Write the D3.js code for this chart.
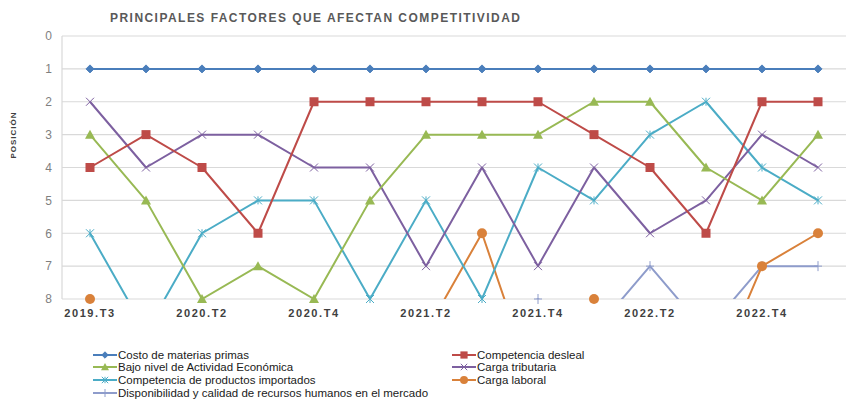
<!DOCTYPE html>
<html><head><meta charset="utf-8">
<script src="https://cdn.jsdelivr.net/npm/d3@7"></script>
<style>body{margin:0;background:#fff}svg{display:block;font-family:"Liberation Sans",Arial,sans-serif}</style>
</head><body><svg id="c" width="856" height="416"></svg>
<script>
const categories = ["2019.T3","2020.T1","2020.T2","2020.T3","2020.T4","2021.T1","2021.T2","2021.T3","2021.T4","2022.T1","2022.T2","2022.T3","2022.T4","2023.T1"];
const tickLabels = ["2019.T3","2020.T2","2020.T4","2021.T2","2021.T4","2022.T2","2022.T4"];
const yTicks = [0,1,2,3,4,5,6,7,8];
const costoMaterias = [1,1,1,1,1,1,1,1,1,1,1,1,1,1];
const competenciaDesleal = [4,3,4,6,2,2,2,2,2,3,4,6,2,2];
const bajoNivel = [3,5,8,7,8,5,3,3,3,2,2,4,5,3];
const cargaTributaria = [2,4,3,3,4,4,7,4,7,4,6,5,3,4];
const competenciaImportados = [6,9,6,5,5,8,5,8,4,5,3,2,4,5];
const cargaLaboral = [8,9,9,9,9,9,9,6,11,8,11,11,7,6];
const disponibilidadRRHH = [9,9,9,9,9,9,9,9,8,9,7,9,7,7];
const seriesNames = ["Costo de materias primas","Competencia desleal","Bajo nivel de Actividad Económica","Carga tributaria","Competencia de productos importados","Carga laboral","Disponibilidad y calidad de recursos humanos en el mercado"];

const series = [
  {name:seriesNames[0], values:costoMaterias, color:"#4A7EBB", marker:"diamond"},
  {name:seriesNames[1], values:competenciaDesleal, color:"#BE4B48", marker:"square"},
  {name:seriesNames[2], values:bajoNivel, color:"#98B954", marker:"triangle"},
  {name:seriesNames[3], values:cargaTributaria, color:"#7D60A0", marker:"x"},
  {name:seriesNames[4], values:competenciaImportados, color:"#4BACC6", marker:"star"},
  {name:seriesNames[5], values:cargaLaboral, color:"#D9813A", marker:"circle"},
  {name:seriesNames[6], values:disponibilidadRRHH, color:"#8E9CCB", marker:"plus"}
];

const svg = d3.select("#c");
const L=62, R=846, T=36, B=299;
const x = d3.scaleBand().domain(categories).range([L,R]);
const y = d3.scaleLinear().domain([0,8]).range([T,B]);
const cx = d => x(d)+x.bandwidth()/2;

// title
svg.append("text").attr("x",110).attr("y",22).attr("textLength",410).attr("lengthAdjust","spacing")
  .attr("font-size",12).attr("font-weight","bold").attr("fill","#595959").text("PRINCIPALES FACTORES QUE AFECTAN COMPETITIVIDAD");

// y label
svg.append("text").attr("transform","translate(16,135) rotate(-90)").attr("text-anchor","middle")
  .attr("font-size",8).attr("font-weight","bold").attr("letter-spacing",1).attr("fill","#404040").text("POSICIÓN");

// gridlines
svg.append("g").selectAll("line").data(yTicks).join("line")
  .attr("x1",L).attr("x2",R).attr("y1",d=>y(d)).attr("y2",d=>y(d))
  .attr("stroke","#D9D9D9").attr("stroke-width",1.2);
svg.append("line").attr("x1",L).attr("x2",L).attr("y1",T).attr("y2",B).attr("stroke","#D9D9D9").attr("stroke-width",1.2);

// y axis labels
const yAxis = d3.axisLeft(y).tickValues(yTicks).tickSize(0).tickPadding(10);
const gy = svg.append("g").attr("transform",`translate(${L},0)`).call(yAxis);
gy.select(".domain").remove();
gy.selectAll("text").attr("font-size",12).attr("fill","#7F7F7F").attr("font-family","Liberation Sans, Arial, sans-serif");

// x axis labels
const xAxis = d3.axisBottom(x).tickValues(tickLabels).tickSize(0).tickPadding(10);
const gx = svg.append("g").attr("transform",`translate(0,${B})`).call(xAxis);
gx.select(".domain").remove();
gx.selectAll("text").attr("font-size",11).attr("font-weight","bold").attr("letter-spacing",1.6).attr("fill","#404040").attr("font-family","Liberation Sans, Arial, sans-serif");

svg.append("clipPath").attr("id","clip").append("rect").attr("x",L).attr("y",T).attr("width",R-L).attr("height",B-T);

const line = d3.line().x((d,i)=>cx(categories[i])).y(d=>y(d));

function drawMarker(g, type, px, py, color, scale){
  const s = scale||1;
  if(type==="diamond"){
    g.append("path").attr("d",`M${px},${py-4*s}L${px+4*s},${py}L${px},${py+4*s}L${px-4*s},${py}Z`).attr("fill",color).attr("stroke",color);
  } else if(type==="square"){
    g.append("rect").attr("x",px-4.5*s).attr("y",py-4.5*s).attr("width",9*s).attr("height",9*s).attr("fill",color);
  } else if(type==="triangle"){
    g.append("path").attr("d",`M${px},${py-5*s}L${px+5*s},${py+4*s}L${px-5*s},${py+4*s}Z`).attr("fill",color);
  } else if(type==="x"){
    g.append("path").attr("d",`M${px-4*s},${py-4*s}L${px+4*s},${py+4*s}M${px+4*s},${py-4*s}L${px-4*s},${py+4*s}`).attr("stroke",color).attr("stroke-width",1);
  } else if(type==="star"){
    g.append("path").attr("d",`M${px-4*s},${py-4*s}L${px+4*s},${py+4*s}M${px+4*s},${py-4*s}L${px-4*s},${py+4*s}M${px},${py-4*s}L${px},${py+4*s}`).attr("stroke",color).attr("stroke-width",1);
  } else if(type==="circle"){
    g.append("circle").attr("cx",px).attr("cy",py).attr("r",5*s).attr("fill",color);
  } else if(type==="plus"){
    g.append("path").attr("d",`M${px-4*s},${py}L${px+4*s},${py}M${px},${py-5*s}L${px},${py+5*s}`).attr("stroke",color).attr("stroke-width",1);
  }
}

const linesG = svg.append("g").attr("clip-path","url(#clip)");
const order = [6,5,4,3,2,1,0];
order.forEach(k=>{
  const s = series[k];
  linesG.append("path").datum(s.values).attr("d",line).attr("fill","none").attr("stroke",s.color).attr("stroke-width",2).attr("stroke-linejoin","round");
});
const markG = svg.append("g");
order.forEach(k=>{
  const s = series[k];
  s.values.forEach((v,i)=>{ if(v<=8) drawMarker(markG, s.marker, cx(categories[i]), y(v), s.color); });
});

// legend
const legend = svg.append("g");
const legPos = [[93,355],[452,355],[93,367],[452,367],[93,380],[452,380],[93,393]];
series.forEach((s,i)=>{
  const [lx,ly] = legPos[i];
  const g = legend.append("g");
  g.append("line").attr("x1",lx).attr("x2",lx+24).attr("y1",ly).attr("y2",ly).attr("stroke",s.color).attr("stroke-width",2);
  drawMarker(g, s.marker, lx+12, ly, s.color, 0.8);
  g.append("text").attr("x",lx+25).attr("y",ly+4).attr("font-size",11.5).attr("fill","#1a1a1a").text(s.name);
});
</script></body></html>
